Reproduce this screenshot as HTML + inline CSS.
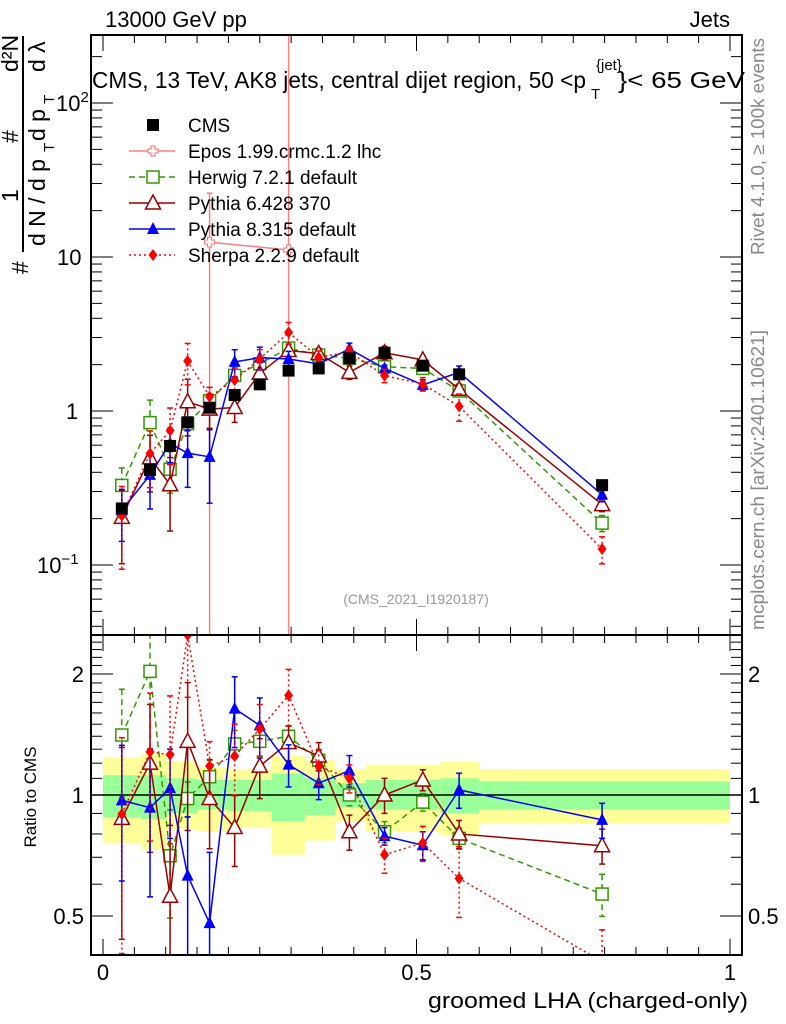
<!DOCTYPE html>
<html><head><meta charset="utf-8"><style>
body{margin:0;background:#fff;}
svg{display:block;font-family:"Liberation Sans",sans-serif;}
</style></head><body>
<svg id="c" width="786" height="1024" viewBox="0 0 786 1024"></svg>
<script>
const xs=[0.030,0.075,0.107,0.135,0.170,0.210,0.250,0.296,0.344,0.393,0.449,0.510,0.568,0.796];
const cms=[0.233,0.414,0.593,0.845,1.05,1.27,1.49,1.83,1.89,2.2,2.39,1.97,1.73,0.33];
const herwigR=[1.41,2.03,0.706,0.98,1.11,1.34,1.36,1.40,1.22,1.0,0.81,0.96,0.78,0.567];
const herwigE=[0.3,0.4,0.3,0.1,0.1,0.08,0.08,0.06,0.06,0.06,0.06,0.05,0.06,0.12];
const py6R=[0.875,1.20,0.56,1.36,0.98,0.83,1.18,1.35,1.25,0.81,1.0,1.09,0.80,0.748];
const py6E=[0.5,0.4,0.5,0.4,0.25,0.2,0.17,0.1,0.08,0.1,0.1,0.06,0.08,0.1];
const py8R=[0.97,0.93,1.04,0.63,0.48,1.64,1.49,1.19,1.07,1.15,0.79,0.75,1.03,0.867];
const py8E=[0.37,0.4,0.25,0.4,0.5,0.2,0.17,0.12,0.09,0.09,0.05,0.08,0.1,0.1];
const sherpaR=[0.896,1.28,1.26,2.5,1.18,1.25,1.46,1.77,1.18,1.10,0.71,0.76,0.62,0.385];
const sherpaE=[0.55,0.4,0.4,0.3,0.15,0.2,0.15,0.16,0.1,0.08,0.1,0.1,0.2,0.2];
const eposX=[0.170,0.296];
const eposV=[12.5,11.1];
const eposHi=[26,300];
const bandEdges=[0,0.0616,0.1014,0.15,0.2,0.269,0.322,0.371,0.419,0.498,0.538,0.6,1.0];
const bandYHi=[1.24,1.265,1.21,1.17,1.16,1.25,1.22,1.16,1.19,1.19,1.21,1.16];
const bandYLo=[0.76,0.73,0.82,0.81,0.83,0.71,0.77,0.86,0.81,0.81,0.79,0.85];
const bandGHi=[1.12,1.12,1.10,1.09,1.09,1.13,1.10,1.07,1.09,1.09,1.10,1.08];
const bandGLo=[0.88,0.87,0.90,0.92,0.91,0.86,0.89,0.93,0.92,0.92,0.90,0.92];

const L=91,R=742,T=35,M=635,B=955;
const X=v=>103+v*627;
const Y=v=>411-154*Math.log10(v);
const RY=v=>795-402*Math.log10(v);
const svg=document.getElementById('c');
const NS='http://www.w3.org/2000/svg';
function el(tag,attrs,parent){const e=document.createElementNS(NS,tag);for(const k in attrs)e.setAttribute(k,attrs[k]);(parent||svg).appendChild(e);return e;}
function txt(s,attrs,parent){const e=el('text',attrs,parent);e.textContent=s;return e;}
const clipM=el('clipPath',{id:'cm'});el('rect',{x:L,y:T,width:R-L,height:M-T},clipM);
const clipR=el('clipPath',{id:'cr'});el('rect',{x:L,y:M,width:R-L,height:B-M},clipR);
const gM=el('g',{'clip-path':'url(#cm)'});
const gR=el('g',{'clip-path':'url(#cr)'});

for(let i=0;i<bandYHi.length;i++){
 const x1=X(bandEdges[i]),x2=X(bandEdges[i+1]);
 const b=el('rect',{x:x1,y:RY(bandYHi[i]),width:x2-x1,height:RY(bandYLo[i])-RY(bandYHi[i]),fill:'#ffff99'},gR);
 
 const g=el('rect',{x:x1,y:RY(bandGHi[i]),width:x2-x1,height:RY(bandGLo[i])-RY(bandGHi[i]),fill:'#99ff99'},gR);
 
}
el('line',{x1:L,x2:R,y1:RY(1),y2:RY(1),stroke:'#000','stroke-width':1.5},gR);

function marker(type,cx,cy,col,g){
 let m;
 if(type==='sq')m=el('rect',{x:cx-6,y:cy-6,width:12,height:12,fill:'#fff',stroke:col,'stroke-width':1.5},g);
 else if(type==='fsq')m=el('rect',{x:cx-6,y:cy-6,width:12,height:12,fill:col},g);
 else if(type==='tri')m=el('polygon',{points:`${cx},${cy-8} ${cx-7.5},${cy+6} ${cx+7.5},${cy+6}`,fill:'#fff',stroke:col,'stroke-width':1.5},g);
 else if(type==='ftri')m=el('polygon',{points:`${cx},${cy-7} ${cx-6},${cy+5} ${cx+6},${cy+5}`,fill:col},g);
 else if(type==='dia')m=el('polygon',{points:`${cx},${cy-6} ${cx-4.5},${cy} ${cx},${cy+6} ${cx+4.5},${cy}`,fill:col},g);
 else if(type==='cross'){m=el('path',{d:`M${cx-2},${cy-5}h4v3h3v4h-3v3h-4v-3h-3v-4h3z`,fill:'#fff',stroke:col,'stroke-width':1.2},g);}
 
}
function series(name,R_,E,col,dash,type){
 const gm=el('g',{},gM);
 const gr=el('g',{},gR);
 const vals=R_.map((r,i)=>r*cms[i]);
 const da=dash==='dash'?'6,4':dash==='dot'?'2,3':'none';
 el('polyline',{points:xs.map((x,i)=>X(x)+','+Y(vals[i])).join(' '),fill:'none',stroke:col,'stroke-width':1.5,'stroke-dasharray':da},gm);
 el('polyline',{points:xs.map((x,i)=>X(x)+','+RY(R_[i])).join(' '),fill:'none',stroke:col,'stroke-width':1.5,'stroke-dasharray':da},gr);
 xs.forEach((x,i)=>{
  const e=E[i];
  [[gm,Y,vals[i]],[gr,RY,R_[i]]].forEach(([g,f,v])=>{
   const y1=f(v*(1+e)),y2=f(Math.max(v*(1-e),1e-3));
   el('line',{x1:X(x),x2:X(x),y1:y1,y2:y2,stroke:col,'stroke-width':1.5,'stroke-dasharray':da},g);
   el('line',{x1:X(x)-3,x2:X(x)+3,y1:y1,y2:y1,stroke:col,'stroke-width':1.5},g);
   el('line',{x1:X(x)-3,x2:X(x)+3,y1:y2,y2:y2,stroke:col,'stroke-width':1.5},g);
  });
 });
 xs.forEach((x,i)=>{marker(type,X(x),Y(vals[i]),col,gm);marker(type,X(x),RY(R_[i]),col,gr);});
}
const ge=el('g',{},gM);
el('polyline',{points:eposX.map((x,i)=>X(x)+','+Y(eposV[i])).join(' '),fill:'none',stroke:'#ff8080','stroke-width':1.5},ge);
eposX.forEach((x,i)=>{el('line',{x1:X(x),x2:X(x),y1:Y(eposHi[i]),y2:M,stroke:'#ff8080','stroke-width':1.5},ge);
 el('line',{x1:X(x)-3,x2:X(x)+3,y1:Y(eposHi[i]),y2:Y(eposHi[i]),stroke:'#ff8080','stroke-width':1.5},ge);
 marker('cross',X(x),Y(eposV[i]),'#ff8080',ge);});
series('herwig',herwigR,herwigE,'#339900','dash','sq');
series('pythia6',py6R,py6E,'#990000','solid','tri');
series('pythia8',py8R,py8E,'#0000ff','solid','ftri');
series('sherpa',sherpaR,sherpaE,'#ff0000','dot','dia');
const gc=el('g',{},gM);
xs.forEach((x,i)=>marker('fsq',X(x),Y(cms[i]),'#000',gc));

[[T,M],[M,B]].forEach(([a,b])=>{const f=el('rect',{x:L,y:a,width:R-L,height:b-a,fill:'none',stroke:'#000','stroke-width':2});});
for(let k=0;k<=20;k++){const v=k*0.05,x=X(v),len=(k%10===0)?16:8;
 [T,M].forEach(y0=>{el('line',{x1:x,x2:x,y1:y0,y2:y0+len,stroke:'#000','stroke-width':1});});
 [M,B].forEach(y0=>{el('line',{x1:x,x2:x,y1:y0,y2:y0-len,stroke:'#000','stroke-width':1});});}
[['0',0],['0.5',0.5],['1',1]].forEach(([s,v])=>{const t=txt(s,{x:X(v),y:980,'font-size':22,'text-anchor':'middle'});});
for(let d=-2;d<=2;d++)for(let m=1;m<=9;m++){const v=m*Math.pow(10,d),y=Y(v);if(y<T||y>M)continue;const len=m===1?22:11;
 el('line',{x1:L,x2:L+len,y1:y,y2:y,stroke:'#000','stroke-width':1});el('line',{x1:R,x2:R-len,y1:y,y2:y,stroke:'#000','stroke-width':1});}
const yl1=txt('10',{x:56,y:111,'font-size':22});const s1=el('tspan',{dy:-9,'font-size':15},yl1);s1.textContent='2';
const yl2=txt('10',{x:57,y:265,'font-size':22});
const yl3=txt('1',{x:66,y:419,'font-size':22});
const yl4=txt('10',{x:37,y:573,'font-size':22});const s4=el('tspan',{dy:-9,'font-size':15},yl4);s4.textContent='−1';
[0.4,0.5,0.6,0.7,0.8,0.9,1,1.1,1.2,1.3,1.4,1.5,1.6,1.7,1.8,1.9,2,2.1,2.2,2.3,2.4,2.5].forEach(v=>{const y=RY(v);if(y<M||y>B)return;const len=(v===0.5||v===1||v===2)?22:11;
 el('line',{x1:L,x2:L+len,y1:y,y2:y,stroke:'#000','stroke-width':1});el('line',{x1:R,x2:R-len,y1:y,y2:y,stroke:'#000','stroke-width':1});});
[['2',2],['1',1],['0.5',0.5]].forEach(([s,v])=>{const a=txt(s,{x:84,y:RY(v)+8,'font-size':22,'text-anchor':'end'});
 const b=txt(s,{x:748,y:RY(v)+8,'font-size':22});});
const t1=txt('13000 GeV pp',{x:105,y:27,'font-size':22});
const t2=txt('Jets',{x:730,y:27,'font-size':22,'text-anchor':'end'});
const t3=txt('CMS, 13 TeV, AK8 jets, central dijet region, 50 <p',{x:92,y:88,'font-size':23,textLength:494,lengthAdjust:'spacingAndGlyphs'});
const t3b=txt('T',{x:591,y:99,'font-size':15});
const t3c=txt('{jet}',{x:596,y:70,'font-size':15});
const t3d=txt('}< 65 GeV',{x:618,y:88,'font-size':23,textLength:127,lengthAdjust:'spacingAndGlyphs'});
const t4=txt('(CMS_2021_I1920187)',{x:416,y:604,'font-size':14,fill:'#999','text-anchor':'middle'});
const t5=txt('groomed LHA (charged-only)',{x:748,y:1008,'font-size':22,'text-anchor':'end',textLength:320,lengthAdjust:'spacingAndGlyphs'});
const t6=txt('Ratio to CMS',{x:0,y:0,'font-size':17,'text-anchor':'middle',transform:'translate(36,797) rotate(-90)'});
const t7=txt('Rivet 4.1.0, ≥ 100k events',{x:0,y:0,'font-size':18,fill:'#888','text-anchor':'end',transform:'translate(764,38) rotate(-90)',textLength:217,lengthAdjust:'spacingAndGlyphs'});
const t8=txt('mcplots.cern.ch [arXiv:2401.10621]',{x:0,y:0,'font-size':18,fill:'#888','text-anchor':'end',transform:'translate(764,330) rotate(-90)',textLength:300,lengthAdjust:'spacingAndGlyphs'});
// y axis title
const gy=el('g',{});
txt('#',{x:0,y:0,'font-size':23,transform:'translate(28,274) rotate(-90)'},gy);
el('line',{x1:23,x2:23,y1:36,y2:252,stroke:'#000','stroke-width':2},gy);
txt('1',{x:0,y:0,'font-size':23,transform:'translate(18,202) rotate(-90)'},gy);
txt('#',{x:0,y:0,'font-size':23,transform:'translate(18,143) rotate(-90)'},gy);
txt('d²N',{x:0,y:0,'font-size':23,transform:'translate(18,72) rotate(-90)'},gy);
txt('d N / d p',{x:0,y:0,'font-size':23,transform:'translate(45,246) rotate(-90)'},gy);
txt('T',{x:0,y:0,'font-size':15,transform:'translate(54,152) rotate(-90)'},gy);
txt('d p',{x:0,y:0,'font-size':23,transform:'translate(45,141) rotate(-90)'},gy);
txt('T',{x:0,y:0,'font-size':15,transform:'translate(54,104) rotate(-90)'},gy);
txt('d λ',{x:0,y:0,'font-size':23,transform:'translate(45,72) rotate(-90)'},gy);
const leg=[['CMS','#000','solid','fsq',false],['Epos 1.99.crmc.1.2 lhc','#ff8080','solid','cross',true],['Herwig 7.2.1 default','#339900','dash','sq',true],['Pythia 6.428 370','#990000','solid','tri',true],['Pythia 8.315 default','#0000ff','solid','ftri',true],['Sherpa 2.2.9 default','#ff0000','dot','dia',true]];
leg.forEach((l,i)=>{const y=125+i*26;const g=el('g',{});
 if(l[4])el('line',{x1:129,x2:175,y1:y,y2:y,stroke:l[1],'stroke-width':1.5,'stroke-dasharray':l[2]==='dash'?'6,4':l[2]==='dot'?'2,3':'none'},g);
 marker(l[3],153,y,l[1],g);
 txt(l[0],{x:188,y:y+7,'font-size':19},g);});
</script>
</body></html>
